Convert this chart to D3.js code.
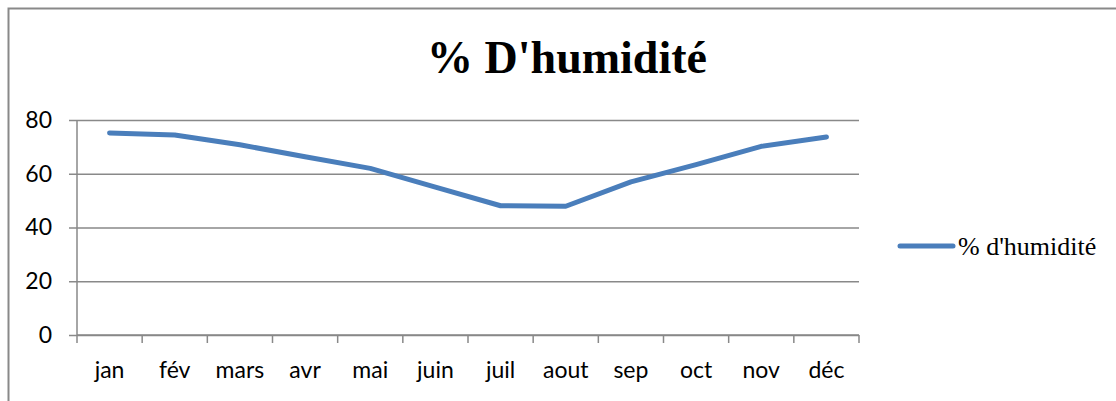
<!DOCTYPE html>
<html>
<head>
<meta charset="utf-8">
<script src="https://cdn.jsdelivr.net/npm/d3@7"></script>
<style>
  body { margin: 0; background: #fff; }
</style>
</head>
<body>
<svg id="chart"></svg>
<script>
const months = ['jan', 'fév', 'mars', 'avr', 'mai', 'juin', 'juil', 'aout', 'sep', 'oct', 'nov', 'déc']
const humidity = [75.2, 74.4, 70.8, 66.3, 62.0, 55.0, 48.1, 47.9, 57.0, 63.4, 70.2, 73.7]
const yTicks = [0, 20, 40, 60, 80]
const seriesName = "% d'humidité"
const title = "% D'humidité"

const svgWidth = 1116
const svgHeight = 401
const margin = { left: 77, right: 257, top: 120, bottom: 66 }
const width = svgWidth - margin.left - margin.right
const height = svgHeight - margin.top - margin.bottom
const grey = '#898989'
const blue = '#4a7ebb'
const labelFont = 'Lato, "Open Sans", sans-serif'
const serifFont = '"Liberation Serif", "Times New Roman", serif'

const svg = d3.select('#chart')
    .attr('width', svgWidth)
    .attr('height', svgHeight)

// outer frame (only top and left edges visible)
svg.append('path')
    .attr('d', `M8.5,${svgHeight} V8.5 H${svgWidth}`)
    .attr('fill', 'none')
    .attr('stroke', grey)
    .attr('stroke-width', 2)

svg.append('text')
    .attr('x', 567)
    .attr('y', 73)
    .attr('text-anchor', 'middle')
    .attr('font-family', serifFont)
    .attr('font-weight', 'bold')
    .attr('font-size', 46)
    .text(title)

const chart = svg.append('g')
    .attr('transform', `translate(${[margin.left, margin.top]})`)

const x = d3.scaleBand()
    .domain(months)
    .range([0, width])

const y = d3.scaleLinear()
    .domain([0, 80])
    .range([height, 0])

// horizontal gridlines + y axis
chart.append('g')
    .call(d3.axisLeft(y).tickValues(yTicks).tickSize(-width).tickPadding(25).tickSizeOuter(0))
    .call(g => g.select('.domain').remove())
    .call(g => g.selectAll('.tick line')
        .attr('x1', -8)
        .attr('stroke', grey)
        .attr('stroke-width', 1.5))
    .call(g => g.selectAll('.tick text')
        .attr('fill', '#000')
        .attr('font-family', labelFont)
        .attr('font-size', 23))

chart.append('line')
    .attr('x1', 0).attr('x2', 0)
    .attr('y1', 0).attr('y2', height)
    .attr('stroke', grey)
    .attr('stroke-width', 1.5)

// x axis with ticks at category boundaries
const xAxis = chart.append('g')
    .attr('transform', `translate(0, ${height})`)

xAxis.append('line')
    .attr('x1', 0).attr('x2', width)
    .attr('stroke', grey)
    .attr('stroke-width', 1.5)

xAxis.selectAll('.bound')
    .data(d3.range(months.length + 1))
    .join('line')
    .attr('class', 'bound')
    .attr('x1', i => i * x.step())
    .attr('x2', i => i * x.step())
    .attr('y1', 0)
    .attr('y2', 8)
    .attr('stroke', grey)
    .attr('stroke-width', 1.5)

xAxis.selectAll('.lbl')
    .data(months)
    .join('text')
    .attr('class', 'lbl')
    .attr('x', d => x(d) + x.bandwidth() / 2)
    .attr('y', 43)
    .attr('text-anchor', 'middle')
    .attr('font-family', labelFont)
    .attr('font-size', 23)
    .text(d => d)

const line = d3.line()
    .x((d, i) => x(months[i]) + x.bandwidth() / 2)
    .y(d => y(d))

chart.append('path')
    .datum(humidity)
    .attr('d', line)
    .attr('fill', 'none')
    .attr('stroke', blue)
    .attr('stroke-width', 5)
    .attr('stroke-linecap', 'round')
    .attr('stroke-linejoin', 'round')

// legend
const legend = svg.append('g')
    .attr('transform', 'translate(900, 246)')

legend.append('line')
    .attr('x1', 0).attr('x2', 53)
    .attr('stroke', blue)
    .attr('stroke-width', 5)
    .attr('stroke-linecap', 'round')

legend.append('text')
    .attr('x', 58)
    .attr('y', 9)
    .attr('font-family', serifFont)
    .attr('font-size', 26)
    .text(seriesName)
</script>
</body>
</html>
